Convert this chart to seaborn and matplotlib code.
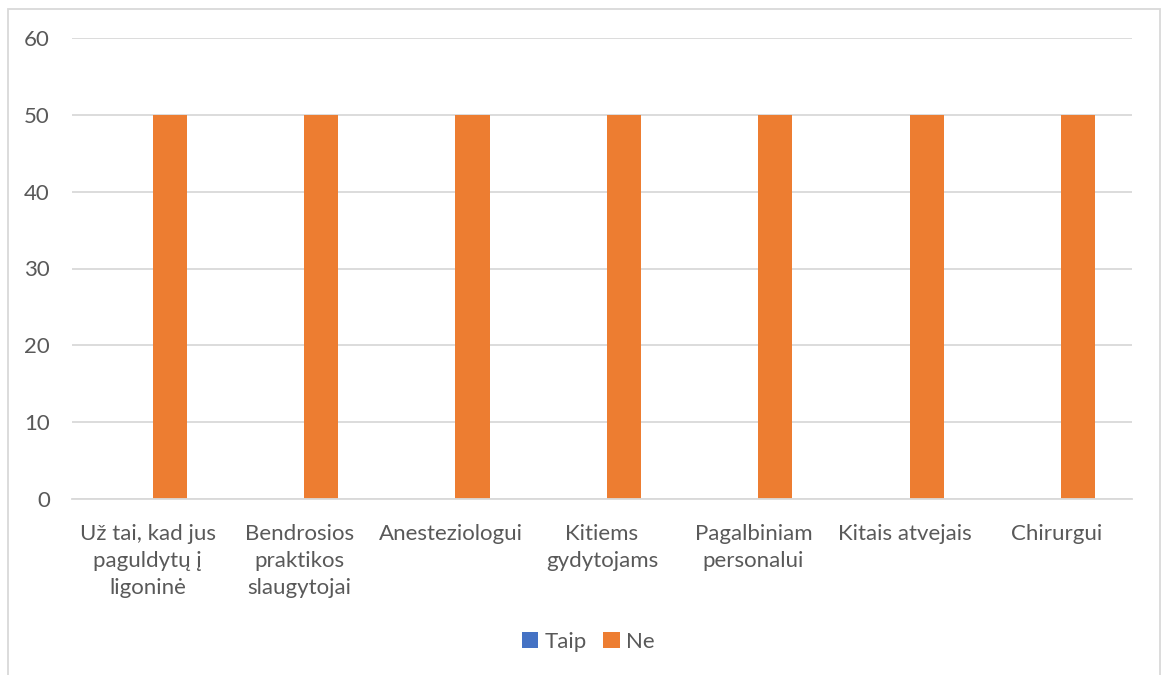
import matplotlib
matplotlib.use("Agg")
import matplotlib.pyplot as plt
import seaborn as sns
import pandas as pd
from matplotlib.patches import Rectangle

categories = [
    "Už tai, kad jus\npaguldytų į\nligoninė",
    "Bendrosios\npraktikos\nslaugytojai",
    "Anesteziologui",
    "Kitiems\ngydytojams",
    "Pagalbiniam\npersonalui",
    "Kitais atvejais",
    "Chirurgui",
]
series_names = ["Taip", "Ne"]
taip_values = [0, 0, 0, 0, 0, 0, 0]
ne_values = [50, 50, 50, 50, 50, 50, 50]
y_ticks = [0, 10, 20, 30, 40, 50, 60]

df = pd.DataFrame({
    "cat": categories * 2,
    "series": [series_names[0]] * len(categories) + [series_names[1]] * len(categories),
    "value": taip_values + ne_values,
})

sns.set_theme(style="white")
plt.rcParams["font.family"] = ["Lato", "DejaVu Sans"]

text_color = "#595959"
grid_color = "#d9d9d9"

fig = plt.figure(figsize=(11.66, 6.75), dpi=100)
ax = fig.add_axes([72 / 1166, 1 - 499 / 675, (1132 - 72) / 1166, (499 - 38) / 675])

sns.barplot(data=df, x="cat", y="value", hue="series", order=categories,
            hue_order=series_names, palette=["#4472C4", "#ED7D31"],
            width=0.58, gap=0.224, ax=ax, saturation=1, legend=True,
            linewidth=0)

ax.set_ylim(0, 60)
ax.set_yticks(y_ticks)
ax.set_xlim(-0.5, len(categories) - 0.5)
ax.yaxis.grid(True, color=grid_color, linewidth=1.3)
ax.set_axisbelow(True)
for s in ["left", "right", "top"]:
    ax.spines[s].set_visible(False)
ax.spines["bottom"].set_color(grid_color)
ax.spines["bottom"].set_linewidth(1.3)
ax.tick_params(axis="both", length=0, colors=text_color, labelsize=16)
ax.tick_params(axis="y", pad=16)
ax.tick_params(axis="x", pad=18)
for lbl in ax.get_xticklabels():
    lbl.set_linespacing(1.45)
ax.set_xlabel("")
ax.set_ylabel("")

leg = ax.legend(loc="center", bbox_to_anchor=(0.5 - (72 - (1166 - 1132)) / 2 / 1060 + 0.005, (675 - 642 - 176) / 461.0),
                bbox_transform=ax.transAxes, ncol=2, frameon=False, fontsize=16,
                handlelength=0.75, handleheight=0.75, handletextpad=0.3, columnspacing=0.7)
for t in leg.get_texts():
    t.set_color(text_color)

fig.patches.append(Rectangle((8 / 1166, -0.05), (1160 - 8) / 1166, 1 - 9 / 675 + 0.05,
                             transform=fig.transFigure, fill=False,
                             edgecolor=grid_color, linewidth=1.3, zorder=0))

fig.savefig("out.png", dpi=100)
